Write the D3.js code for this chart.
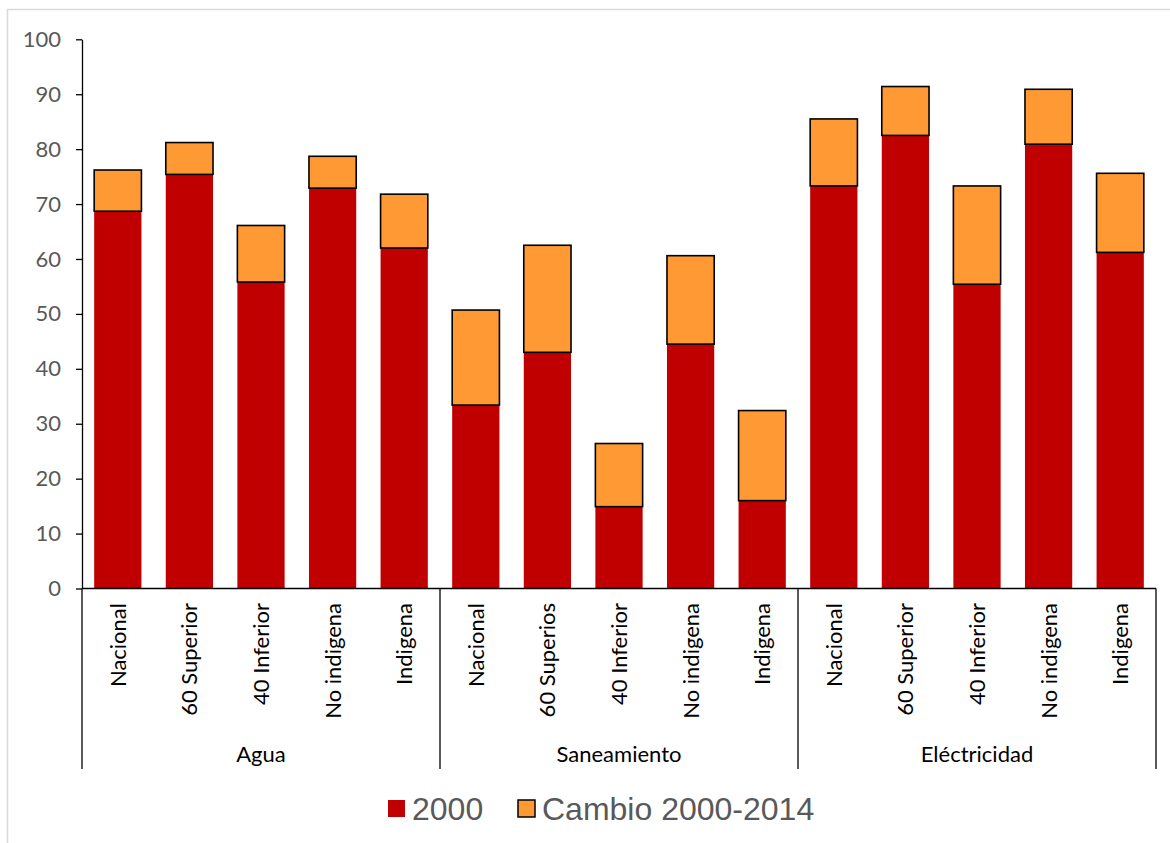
<!DOCTYPE html>
<html>
<head>
<meta charset="utf-8">
<script src="https://cdn.jsdelivr.net/npm/d3@7"></script>
<style>
  body { margin: 0; background: #fff; }
  svg { display: block; }
</style>
</head>
<body>
<div id="chart"></div>
<script>
// data
const groups = ["Agua", "Saneamiento", "Eléctricidad"];
const categories = [
  ["Nacional", "60 Superior", "40 Inferior", "No indigena", "Indigena"],
  ["Nacional", "60 Superios", "40 Inferior", "No indigena", "Indigena"],
  ["Nacional", "60 Superior", "40 Inferior", "No indigena", "Indigena"]
];
const base2000 = [
  [68.7, 75.4, 55.8, 72.9, 62.0],
  [33.4, 43.0, 14.9, 44.5, 16.0],
  [73.3, 82.5, 55.4, 80.9, 61.2]
];
const change = [
  [7.5, 5.8, 10.3, 5.8, 9.8],
  [17.3, 19.5, 11.5, 16.1, 16.4],
  [12.2, 8.9, 17.9, 10.0, 14.4]
];
const seriesNames = ["2000", "Cambio 2000-2014"];
const yTicks = [0, 10, 20, 30, 40, 50, 60, 70, 80, 90, 100];

const colors = { "2000": "#C00000", "Cambio 2000-2014": "#FF9933" };

// flatten into rows for the stack
const rows = [];
groups.forEach((g, gi) => {
  categories[gi].forEach((c, ci) => {
    rows.push({ key: g + "|" + ci, group: g, cat: c, "2000": base2000[gi][ci], "Cambio 2000-2014": change[gi][ci] });
  });
});

const W = 1170, H = 843;
const svg = d3.select("#chart").append("svg").attr("width", W).attr("height", H);

// outer frame
svg.append("rect")
  .attr("x", 7.5).attr("y", 9.5)
  .attr("width", 1300).attr("height", 1000)
  .attr("fill", "none").attr("stroke", "#d9d9d9").attr("stroke-width", 1.5);

const plotLeft = 82, plotRight = 1156, plotTop = 39.3, plotBottom = 588.5;

const x = d3.scaleBand().domain(rows.map(d => d.key)).range([plotLeft, plotRight]).paddingInner(0.34).paddingOuter(0.17);
const y = d3.scaleLinear().domain([0, 100]).range([plotBottom, plotTop]);

const stack = d3.stack().keys(seriesNames)(rows);

svg.append("g")
  .selectAll("g")
  .data(stack)
  .join("g")
  .attr("fill", d => colors[d.key])
  .attr("stroke", d => d.key === "2000" ? "none" : "#000")
  .attr("stroke-width", 1.6)
  .selectAll("rect")
  .data(d => d)
  .join("rect")
  .attr("x", d => x(d.data.key))
  .attr("y", d => y(d[1]))
  .attr("width", x.bandwidth())
  .attr("height", d => y(d[0]) - y(d[1]));

// y axis
const yAxis = svg.append("g")
  .attr("transform", `translate(${plotLeft},0)`)
  .call(d3.axisLeft(y).tickValues(yTicks).tickSize(6).tickSizeOuter(0).tickPadding(15));
yAxis.select(".domain").attr("stroke", "#000").attr("stroke-width", 1.3);
yAxis.selectAll(".tick line").attr("stroke", "#000").attr("stroke-width", 1.3);
yAxis.selectAll(".tick text")
  .attr("font-family", "Lato, sans-serif")
  .attr("font-size", 22)
  .attr("fill", "#595959");

// category axis line
svg.append("line")
  .attr("x1", plotLeft).attr("x2", plotRight)
  .attr("y1", y(0)).attr("y2", y(0))
  .attr("stroke", "#000").attr("stroke-width", 1.3);

// group separators
const step = x.step();
const sepX = d3.range(groups.length + 1).map(i => plotLeft + i * 5 * step);
svg.append("g")
  .selectAll("line")
  .data(sepX)
  .join("line")
  .attr("x1", d => d).attr("x2", d => d)
  .attr("y1", y(0)).attr("y2", 769)
  .attr("stroke", "#000").attr("stroke-width", 1.3);

// category labels (rotated)
svg.append("g")
  .selectAll("text")
  .data(rows)
  .join("text")
  .attr("transform", d => `translate(${x(d.key) + x.bandwidth() / 2},603) rotate(-90)`)
  .attr("text-anchor", "end")
  .attr("dy", "0.36em")
  .attr("font-family", "Lato, sans-serif")
  .attr("font-size", 22)
  .attr("fill", "#000")
  .text(d => d.cat);

// group labels
svg.append("g")
  .selectAll("text")
  .data(groups)
  .join("text")
  .attr("x", (d, i) => (sepX[i] + sepX[i + 1]) / 2)
  .attr("y", 762)
  .attr("text-anchor", "middle")
  .attr("font-family", "Lato, sans-serif")
  .attr("font-size", 22)
  .attr("fill", "#000")
  .text(d => d);

// legend
const legendX = [388, 518];
const legend = svg.append("g")
  .selectAll("g")
  .data(seriesNames)
  .join("g")
  .attr("transform", (d, i) => `translate(${legendX[i]},800)`);
legend.append("rect")
  .attr("width", 17).attr("height", 17)
  .attr("fill", d => colors[d])
  .attr("stroke", d => d === "2000" ? "none" : "#000")
  .attr("stroke-width", 1.5);
legend.append("text")
  .attr("x", 24).attr("y", 20)
  .attr("font-family", "'Liberation Sans', Arial, sans-serif")
  .attr("font-size", 32)
  .attr("fill", "#595959")
  .text(d => d);
</script>
</body>
</html>
